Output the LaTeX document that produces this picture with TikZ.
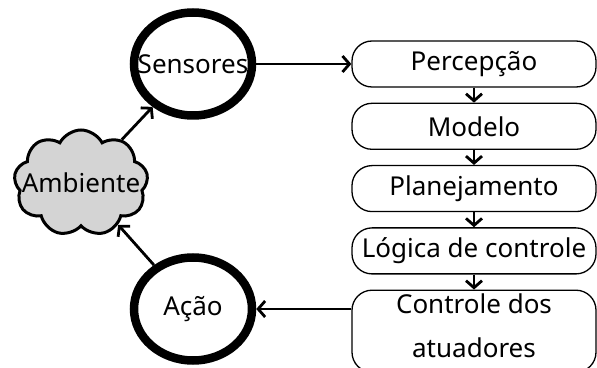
\documentclass[tikz,border=0pt]{standalone}
\usepackage{fontspec}
\setmainfont{Noto Sans}
\usepackage{tikz}
\usetikzlibrary{shapes.geometric, shapes.symbols, arrows.meta, positioning, calc}
\tikzset{
  etapa/.style = {draw, line width=1.3pt, rounded corners=20pt, align=center,
                  minimum width=244pt, minimum height=46pt, inner sep=0pt},
  anel/.style  = {draw, ellipse, line width=8.5pt, minimum width=118pt, minimum height=103pt,
                  inner xsep=-15pt, inner ysep=0pt},
  nuvem/.style = {draw, cloud, cloud puffs=9, cloud puff arc=125, aspect=1.3, line width=3pt,
                  fill=black!17, minimum width=134pt, minimum height=106pt,
                  inner xsep=-28pt, inner ysep=-4pt},
  seta/.style  = {-{Straight Barb[length=7pt,width=16pt]}, line width=2.8pt}
}

\begin{document}
\begin{tikzpicture}[x=1pt, y=1pt, font=\fontsize{26}{44}\selectfont]
  \useasboundingbox (0,0) rectangle (597,367);

  \node[anel] (sens) at (193,303) {Sensores};
  \node[anel] (acao) at (193,58)  {Ação};
  \node[nuvem] (amb) at (81,184)  {Ambiente};

  \node[etapa] (perc) at (474,303)          {Percepção};
  \node[etapa, below=15pt of perc] (mod)    {Modelo};
  \node[etapa, below=15pt of mod] (plan)    {Planejamento};
  \node[etapa, below=15pt of plan] (logi)   {Lógica de controle};
  \node[etapa, below=15pt of logi, minimum height=82pt, text depth=12pt] (ctrl) {Controle dos\\atuadores};

  \draw[seta] (sens.east) -- (perc.west);
  \draw[seta] (perc) -- (mod);
  \draw[seta] (mod) -- (plan);
  \draw[seta] (plan) -- (logi);
  \draw[seta] (logi) -- (ctrl);
  \draw[seta] (ctrl.west |- acao.east) -- (acao.east);
  \draw[seta] (acao) -- (amb);
  \draw[seta] (amb) -- (sens);
\end{tikzpicture}
\end{document}
